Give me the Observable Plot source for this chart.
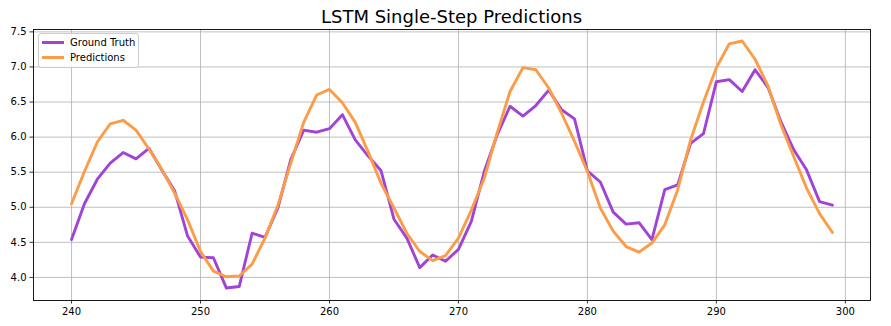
<!DOCTYPE html>
<html>
<head>
<meta charset="utf-8">
<script src="https://cdn.jsdelivr.net/npm/d3@7"></script>
<script src="https://cdn.jsdelivr.net/npm/@observablehq/plot@0.6"></script>
<style>
  html, body { margin: 0; padding: 0; background: white; }
  #wrap { position: relative; width: 891px; height: 326px; font-family: "DejaVu Sans", sans-serif; }
  #title { position: absolute; left: 33px; width: 837px; top: 8px; text-align: center;
           font-size: 18px; line-height: 18px; color: black; }
  #legend { position: absolute; left: 38px; top: 33px; width: 101px; height: 35px; box-sizing: border-box;
            border: 1px solid #cccccc; border-radius: 3px; background: rgba(255,255,255,0.8); }
  .sw { position: absolute; left: 2.5px; width: 22.5px; height: 3px; }
  .lt { position: absolute; left: 31px; font-size: 10px; line-height: 10px; color: black; white-space: nowrap; }
</style>
</head>
<body>
<div id="wrap">
  <div id="chart"></div>
  <div id="title"></div>
  <div id="legend"></div>
</div>
<script>
const titleText = "LSTM Single-Step Predictions";
const seriesNames = ["Ground Truth", "Predictions"];
const seriesColors = ["#a044d6", "#fb9c48"];

const steps = [240,241,242,243,244,245,246,247,248,249,
               250,251,252,253,254,255,256,257,258,259,
               260,261,262,263,264,265,266,267,268,269,
               270,271,272,273,274,275,276,277,278,279,
               280,281,282,283,284,285,286,287,288,289,
               290,291,292,293,294,295,296,297,298,299];

const groundTruth = [4.54,5.05,5.40,5.63,5.78,5.69,5.84,5.53,5.23,4.59,
                     4.29,4.28,3.85,3.87,4.63,4.57,4.99,5.68,6.10,6.07,
                     6.12,6.32,5.96,5.73,5.52,4.83,4.56,4.14,4.32,4.23,
                     4.40,4.80,5.51,6.03,6.44,6.30,6.45,6.67,6.39,6.26,
                     5.52,5.36,4.93,4.76,4.78,4.54,5.25,5.32,5.91,6.05,
                     6.79,6.82,6.65,6.96,6.71,6.22,5.82,5.53,5.08,5.03];

const predictions = [5.05,5.51,5.93,6.19,6.24,6.10,5.83,5.54,5.20,4.82,
                     4.37,4.09,4.01,4.02,4.19,4.56,5.03,5.63,6.21,6.60,
                     6.68,6.49,6.21,5.79,5.34,4.99,4.63,4.37,4.24,4.31,
                     4.56,4.96,5.41,6.06,6.65,6.99,6.96,6.70,6.34,5.94,
                     5.51,4.99,4.66,4.44,4.36,4.49,4.75,5.25,5.96,6.50,
                     6.99,7.33,7.37,7.11,6.73,6.18,5.72,5.27,4.91,4.64];

const xTicks = [240, 250, 260, 270, 280, 290, 300];
const yTicks = [4.0, 4.5, 5.0, 5.5, 6.0, 6.5, 7.0, 7.5];

const gtData = steps.map((s, i) => ({step: s, value: groundTruth[i]}));
const prData = steps.map((s, i) => ({step: s, value: predictions[i]}));

const chart = Plot.plot({
  width: 891,
  height: 326,
  marginTop: 29,
  marginBottom: 26,
  marginLeft: 33,
  marginRight: 21,
  style: {fontFamily: "DejaVu Sans", fontSize: "10px", background: "white", color: "black", overflow: "visible"},
  x: {domain: [237.05, 301.95], label: null},
  y: {domain: [3.671, 7.534], label: null},
  marks: [
    Plot.gridX(xTicks, {stroke: "#b0b0b0", strokeOpacity: 1, strokeWidth: 0.8}),
    Plot.gridY(yTicks, {stroke: "#b0b0b0", strokeOpacity: 1, strokeWidth: 0.8}),
    Plot.line(gtData, {x: "step", y: "value", stroke: seriesColors[0], strokeWidth: 2.9}),
    Plot.line(prData, {x: "step", y: "value", stroke: seriesColors[1], strokeWidth: 2.9}),
    Plot.axisX(xTicks, {tickSize: 3.5, tickPadding: 3.5, fontSize: 10, tickFormat: d => String(d), strokeWidth: 0.8}),
    Plot.axisY(yTicks, {tickSize: 3.5, tickPadding: 3.5, fontSize: 10, tickFormat: d3.format(".1f"), strokeWidth: 0.8}),
    Plot.frame({stroke: "black", strokeWidth: 0.9})
  ]
});
document.getElementById("chart").appendChild(chart);

document.getElementById("title").textContent = titleText;

const legend = document.getElementById("legend");
seriesNames.forEach((name, i) => {
  const sw = document.createElement("div");
  sw.className = "sw";
  sw.style.top = (7 + i * 15) + "px";
  sw.style.background = seriesColors[i];
  legend.appendChild(sw);
  const t = document.createElement("div");
  t.className = "lt";
  t.style.top = (3.5 + i * 15) + "px";
  t.textContent = name;
  legend.appendChild(t);
});
</script>
</body>
</html>
